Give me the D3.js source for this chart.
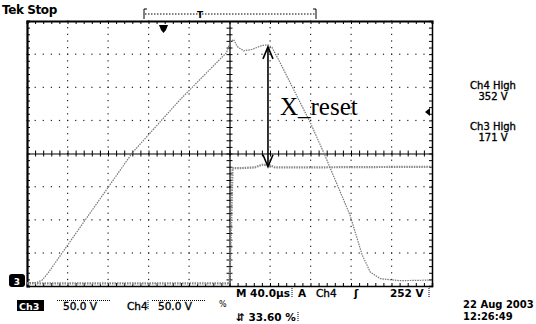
<!DOCTYPE html>
<html>
<head>
<meta charset="utf-8">
<script src="https://cdn.jsdelivr.net/npm/d3@7"></script>
<style>
  body { margin: 0; background: #fff; }
  svg { display: block; }
  text { font-family: "DejaVu Sans", sans-serif; font-weight: bold; fill: #000; }
</style>
</head>
<body>
<div id="scope"></div>
<script>
// channel 4 trace: time (us) / volts
var ch4Time = [0, 9, 15, 21, 104, 151, 193, 197, 201, 204, 208, 214, 222, 232, 238, 242, 250, 280, 294, 319, 331, 339, 349, 368, 400];
var ch4Volt = [5, 5, 9, 20, 201, 281, 346, 352, 369, 372, 361, 355, 357, 363, 364, 360, 337, 246, 198, 107, 47, 21, 11, 8, 9];
// channel 3 trace
var ch3Time = [0, 100, 200, 201, 203, 212, 225, 232, 240, 245, 270, 400];
var ch3Volt = [4, 4, 4, 60, 178, 178, 179, 183, 182, 179, 179, 180];
// reset arrow (time, low V, high V)
var arrowTime = 238, arrowLow = 180, arrowHigh = 361;

var tDomain = [0, 400], vDomain = [0, 400];
var tStep = 40, vStep = 50, minorPerDiv = 5;

var margin = {top: 21, right: 104, bottom: 38, left: 27},
    width = 536 - margin.left - margin.right,
    height = 324 - margin.top - margin.bottom;

var svg = d3.select("#scope")
    .append("svg")
    .attr("width", 536)
    .attr("height", 324);

var g = svg.append("g")
    .attr("transform", "translate(" + margin.left + "," + margin.top + ")");

var x = d3.scaleLinear().domain(tDomain).range([0, width]);
var y = d3.scaleLinear().domain(vDomain).range([height, 0]);

var majorT = d3.range(tDomain[0], tDomain[1] + 1, tStep);
var majorV = d3.range(vDomain[0], vDomain[1] + 1, vStep);
var minorT = d3.range(tDomain[0], tDomain[1] + 0.01, tStep / minorPerDiv);
var minorV = d3.range(vDomain[0], vDomain[1] + 0.01, vStep / minorPerDiv);
var midT = (tDomain[0] + tDomain[1]) / 2, midV = (vDomain[0] + vDomain[1]) / 2;

// dotted grid: dots on every division line, spaced by minor step
var dots = g.append("g").attr("fill", "#222");
majorV.slice(1, -1).forEach(function (v) {
    if (v === midV) return;
    dots.selectAll(null).data(minorT).enter().append("rect")
        .attr("x", function (d) { return x(d) - 0.5; })
        .attr("y", y(v) - 0.5).attr("width", 1.2).attr("height", 1.2);
});
majorT.slice(1, -1).forEach(function (t) {
    if (t === midT) return;
    dots.selectAll(null).data(minorV).enter().append("rect")
        .attr("x", x(t) - 0.5)
        .attr("y", function (d) { return y(d) - 0.5; })
        .attr("width", 1.2).attr("height", 1.2);
});

// center cross axes with minor ticks
g.append("g")
    .attr("transform", "translate(0," + y(midV) + ")")
    .call(d3.axisBottom(x).tickValues(minorT).tickSize(3).tickFormat(""))
    .call(function (a) {
        a.select(".domain").attr("stroke-width", 1.2);
        a.selectAll(".tick line").attr("y1", -3);
    });
g.append("g")
    .attr("transform", "translate(" + x(midT) + ",0)")
    .call(d3.axisLeft(y).tickValues(minorV).tickSize(3).tickFormat(""))
    .call(function (a) {
        a.select(".domain").attr("stroke-width", 1.2);
        a.selectAll(".tick line").attr("x1", 3);
    });

// frame with inward ticks
g.append("g").call(d3.axisTop(x).tickValues(minorT).tickSize(-3).tickFormat(""))
    .call(function (a) { a.select(".domain").attr("stroke-width", 2); });
g.append("g").attr("transform", "translate(0," + height + ")")
    .call(d3.axisBottom(x).tickValues(minorT).tickSize(-3).tickFormat(""))
    .call(function (a) { a.select(".domain").attr("stroke-width", 1.5); });
g.append("g").call(d3.axisLeft(y).tickValues(minorV).tickSize(-3).tickFormat(""))
    .call(function (a) { a.select(".domain").attr("stroke-width", 2.2); });
g.append("g").attr("transform", "translate(" + width + ",0)")
    .call(d3.axisRight(y).tickValues(minorV).tickSize(-3).tickFormat(""))
    .call(function (a) { a.select(".domain").attr("stroke-width", 1.5); });

// traces
var line = d3.line()
    .x(function (d) { return x(d[0]); })
    .y(function (d) { return y(d[1]); });

var ch3 = d3.zip(ch3Time, ch3Volt);
var ch4 = d3.zip(ch4Time, ch4Volt);

g.append("path").datum(ch3)
    .attr("d", line).attr("fill", "none")
    .attr("stroke", "#888").attr("stroke-width", 2.2)
    .attr("stroke-dasharray", "1.5,1");
g.append("path").datum(ch4)
    .attr("d", line).attr("fill", "none")
    .attr("stroke", "#777").attr("stroke-width", 1.2)
    .attr("stroke-dasharray", "1.5,1");

// X_reset arrow
var ax = x(arrowTime);
g.append("line")
    .attr("x1", ax).attr("x2", ax)
    .attr("y1", y(arrowHigh) + 1).attr("y2", y(arrowLow) - 1)
    .attr("stroke", "#000").attr("stroke-width", 1.6);
[[arrowHigh, 1], [arrowLow, -1]].forEach(function (a) {
    var yy = y(a[0]);
    g.append("path")
        .attr("d", "M" + (ax - 5) + "," + (yy + a[1] * 12) + "L" + ax + "," + yy + "L" + (ax + 5) + "," + (yy + a[1] * 12))
        .attr("fill", "none").attr("stroke", "#000").attr("stroke-width", 1.6);
});
g.append("text")
    .attr("x", ax + 12).attr("y", y(258))
    .style("font-family", "'Liberation Serif', serif")
    .style("font-weight", "normal")
    .style("font-size", "25px")
    .text("X_reset");

// ground marker (ch3)
svg.append("rect").attr("x", 9).attr("y", 274).attr("width", 16).attr("height", 13)
    .attr("rx", 3).attr("fill", "#000");
svg.append("text").attr("x", 17).attr("y", 284.5).attr("text-anchor", "middle")
    .style("font-size", "9px").style("fill", "#fff").text("3");

// trigger level marker on right
svg.append("path").attr("d", "M425,112L430,108L430,116Z").attr("fill", "#000");

// trigger position marker
svg.append("path").attr("d", "M159,25H168L166,30L163.5,33L161,30Z").attr("fill", "#000");

// header
svg.append("text").attr("x", 2).attr("y", 14).style("font-size", "12px")
    .style("letter-spacing", "-0.4px").text("Tek Stop");

// record bracket
var br = svg.append("g").attr("stroke", "#000").attr("fill", "none");
br.append("path").attr("d", "M144,19V9H147");
br.append("path").attr("d", "M316,19V9H313");
br.append("line").attr("x1", 145).attr("x2", 315).attr("y1", 14).attr("y2", 14)
    .attr("stroke-dasharray", "1.5,1.5");
svg.append("text").attr("x", 200).attr("y", 18).attr("text-anchor", "middle")
    .style("font-size", "9px").text("T");

// measurement readouts
var meas = [["Ch4 High", 89], ["352 V", 99.5], ["Ch3 High", 130], ["171 V", 140.5]];
svg.selectAll(".meas").data(meas).enter().append("text")
    .attr("x", 493).attr("y", function (d) { return d[1]; })
    .attr("text-anchor", "middle")
    .style("font-size", "10px").style("font-weight", "normal")
    .style("stroke", "#000").style("stroke-width", 0.35)
    .text(function (d) { return d[0]; });

// bottom status
function label(tx, xx, yy, size) {
    return svg.append("text").attr("x", xx).attr("y", yy)
        .style("font-size", (size || 10.5) + "px").text(tx);
}
function thin(sel) {
    return sel.style("font-weight", "normal").style("stroke", "#000").style("stroke-width", 0.35);
}
label("M 40.0\u00b5s", 236, 297);
label("A", 298, 297);
thin(label("Ch4", 316, 297));
label("\u0283", 354, 297);
label("252 V", 390, 297);

svg.append("rect").attr("x", 17).attr("y", 300).attr("width", 27).attr("height", 11).attr("fill", "#000");
label("Ch3", 19, 309.5, 9.5).style("fill", "#fff");
thin(label("50.0 V", 63, 310));
thin(label("Ch4", 127, 310));
thin(label("50.0 V", 158, 310));
label("%", 219, 307, 8).style("font-weight", "normal");
label("\u21f5 33.60 %", 236, 321);

label("22 Aug 2003", 463, 307.5, 10);
label("12:26:49", 463, 319.5, 10);

// dotted separators in status bar
var sep = svg.append("g").attr("stroke", "#000").attr("stroke-dasharray", "1,1");
sep.append("line").attr("x1", 57).attr("x2", 110).attr("y1", 300.5).attr("y2", 300.5);
sep.append("line").attr("x1", 152).attr("x2", 205).attr("y1", 300.5).attr("y2", 300.5);
sep.append("line").attr("x1", 148).attr("x2", 148).attr("y1", 300).attr("y2", 310);
sep.append("line").attr("x1", 298).attr("x2", 298).attr("y1", 312).attr("y2", 322);
sep.append("line").attr("x1", 292).attr("x2", 292).attr("y1", 288).attr("y2", 298);
sep.append("line").attr("x1", 429).attr("x2", 429).attr("y1", 288).attr("y2", 298);
</script>
</body>
</html>
